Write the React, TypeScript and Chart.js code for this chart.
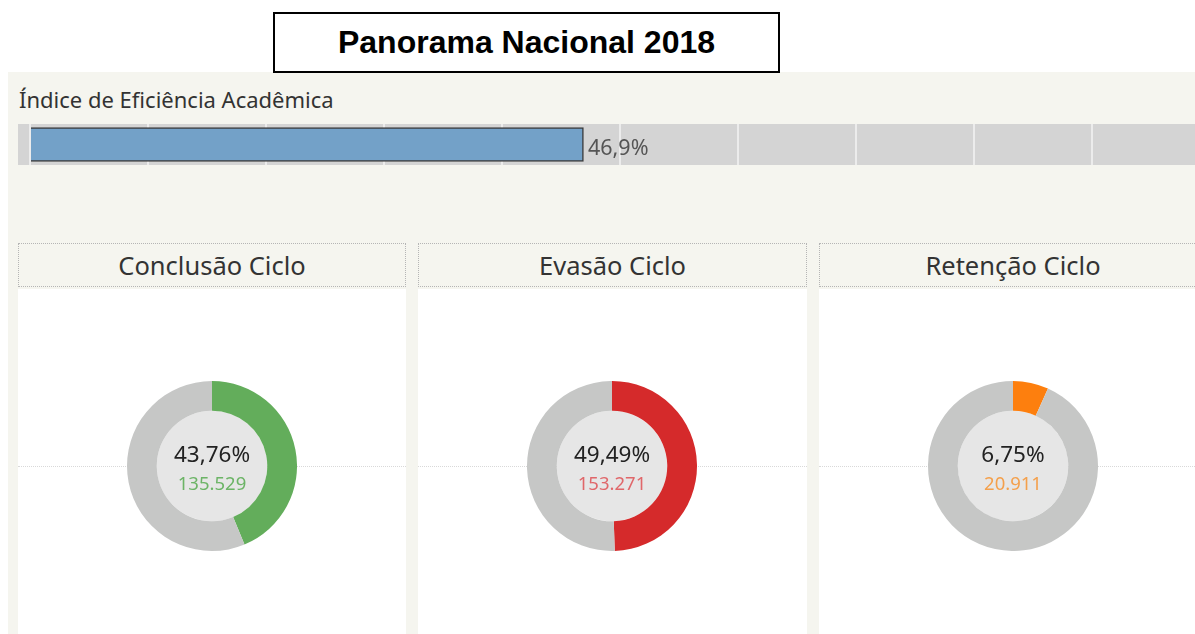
import React, { useEffect, useRef } from "react";
import { Chart, registerables } from "chart.js";

Chart.register(...registerables);

const pageTitle = "Panorama Nacional 2018";
const barCategories = ["Índice de Eficiência Acadêmica"];
const barValues = [46.9];
const barAxisMax = 100;

const cycleTitles = ["Conclusão Ciclo", "Evasão Ciclo", "Retenção Ciclo"];
const cyclePercents = [43.76, 49.49, 6.75];
const cycleCounts = [135529, 153271, 20911];

const ringColors = ["#63ad5b", "#d52a2b", "#fd7f0e"];
const countColors = ["#6cb466", "#e0676a", "#f4a04c"];
const restColor = "#c6c7c6";
const innerFill = "#e6e6e6";
const beige = "#f5f5ef";
const uiFont = "'Noto Sans', 'DejaVu Sans', sans-serif";

const fmtPct = (v: number) => v.toFixed(2).replace(".", ",") + "%";
const fmtCount = (v: number) => String(v).replace(/\B(?=(\d{3})+(?!\d))/g, ".");
const fmtBar = (v: number) => v.toFixed(1).replace(".", ",") + "%";

const innerCirclePlugin = {
  id: "innerCircle",
  beforeDatasetsDraw(chart: any) {
    const meta = chart.getDatasetMeta(0);
    const arc: any = meta.data[0];
    if (!arc) return;
    const ctx = chart.ctx;
    ctx.save();
    ctx.beginPath();
    ctx.arc(arc.x, arc.y, arc.innerRadius, 0, Math.PI * 2);
    ctx.fillStyle = innerFill;
    ctx.fill();
    ctx.restore();
  },
};

function Donut({ index }: { index: number }) {
  const ref = useRef<HTMLCanvasElement>(null);
  useEffect(() => {
    if (!ref.current) return;
    const pct = cyclePercents[index];
    const chart = new Chart(ref.current, {
      type: "doughnut",
      data: {
        labels: [cycleTitles[index], "Outros"],
        datasets: [
          {
            data: [pct, 100 - pct],
            backgroundColor: [ringColors[index], restColor],
            borderWidth: 0,
          },
        ],
      },
      options: {
        animation: false,
        responsive: false,
        cutout: "65%",
        layout: { padding: 0 },
        plugins: { legend: { display: false }, tooltip: { enabled: false } },
      },
      plugins: [innerCirclePlugin],
    });
    return () => chart.destroy();
  }, [index]);
  return <canvas ref={ref} width={170} height={170} style={{ width: 170, height: 170, display: "block" }} />;
}

function EfficiencyBar() {
  const ref = useRef<HTMLCanvasElement>(null);
  useEffect(() => {
    if (!ref.current) return;
    const chart = new Chart(ref.current, {
      type: "bar",
      data: {
        labels: barCategories,
        datasets: [
          {
            data: barValues,
            backgroundColor: "#73a1c8",
            borderColor: "#3b3b3b",
            borderWidth: 1.5,
            barThickness: 34,
          },
        ],
      },
      options: {
        indexAxis: "y",
        animation: false,
        responsive: false,
        layout: { padding: { left: 12, right: 12, top: 0, bottom: 0 } },
        scales: {
          x: {
            min: 0,
            max: barAxisMax,
            ticks: { display: false, stepSize: 10 },
            grid: { color: "#ececec", lineWidth: 2, drawTicks: false },
            border: { display: false },
          },
          y: { display: false },
        },
        plugins: { legend: { display: false }, tooltip: { enabled: false } },
      },
    });
    return () => chart.destroy();
  }, []);
  return <canvas ref={ref} width={1204} height={41} style={{ width: 1204, height: 41, display: "block" }} />;
}

const panelLefts = [10, 410, 811];
const panelWidths = [388, 389, 388];

export default function App() {
  return (
    <div style={{ position: "fixed", left: 8, top: 8, width: 1187, height: 626, overflow: "hidden", background: "#fff" }}>
      <div style={{ position: "absolute", left: 0, top: 64, width: 1187, height: 562, background: beige }} />
      <div
        style={{
          position: "absolute",
          left: 265,
          top: 4,
          width: 507,
          height: 61,
          boxSizing: "border-box",
          border: "2px solid #000",
          background: "#fff",
          display: "flex",
          alignItems: "center",
          justifyContent: "center",
          fontFamily: "'Liberation Sans', Arial, sans-serif",
          fontWeight: "bold",
          fontSize: 32,
          color: "#000",
        }}
      >
        {pageTitle}
      </div>
      <div
        style={{
          position: "absolute",
          left: 11,
          top: 76,
          fontFamily: uiFont,
          fontSize: 22,
          lineHeight: "30px",
          color: "#333",
          whiteSpace: "nowrap",
        }}
      >
        {barCategories[0]}
      </div>
      <div style={{ position: "absolute", left: 10, top: 116, width: 1177, height: 41, overflow: "hidden", background: "#d4d4d4" }}>
        <EfficiencyBar />
      </div>
      <div
        style={{
          position: "absolute",
          left: 580,
          top: 124,
          lineHeight: "30px",
          fontFamily: uiFont,
          fontSize: 21.5,
          color: "#555",
        }}
      >
        {fmtBar(barValues[0])}
      </div>
      {cycleTitles.map((t, i) => (
        <React.Fragment key={t}>
          <div
            style={{
              position: "absolute",
              left: panelLefts[i],
              top: 235,
              width: panelWidths[i],
              height: 44,
              boxSizing: "border-box",
              border: "1px dotted #b5b5b5",
              display: "flex",
              alignItems: "center",
              justifyContent: "center",
              fontFamily: uiFont,
              fontSize: 25.5,
              color: "#333",
            }}
          >
            {t}
          </div>
          <div
            style={{
              position: "absolute",
              left: panelLefts[i],
              top: 281,
              width: panelWidths[i],
              height: 345,
              background: "#fff",
            }}
          >
            <div
              style={{
                position: "absolute",
                left: 0,
                top: 177,
                width: panelWidths[i],
                height: 0,
                borderTop: "1px dotted #d9d9d9",
              }}
            />
            <div style={{ position: "absolute", left: 194 - 85, top: 92 }}>
              <Donut index={i} />
            </div>
            <div
              style={{
                position: "absolute",
                left: 194 - 60,
                width: 120,
                top: 152,
                textAlign: "center",
                fontFamily: uiFont,
                fontSize: 22.5,
                lineHeight: "26px",
                color: "#222",
              }}
            >
              {fmtPct(cyclePercents[i])}
            </div>
            <div
              style={{
                position: "absolute",
                left: 194 - 60,
                width: 120,
                top: 183,
                textAlign: "center",
                fontFamily: uiFont,
                fontSize: 18.5,
                lineHeight: "22px",
                color: countColors[i],
              }}
            >
              {fmtCount(cycleCounts[i])}
            </div>
          </div>
        </React.Fragment>
      ))}
    </div>
  );
}
